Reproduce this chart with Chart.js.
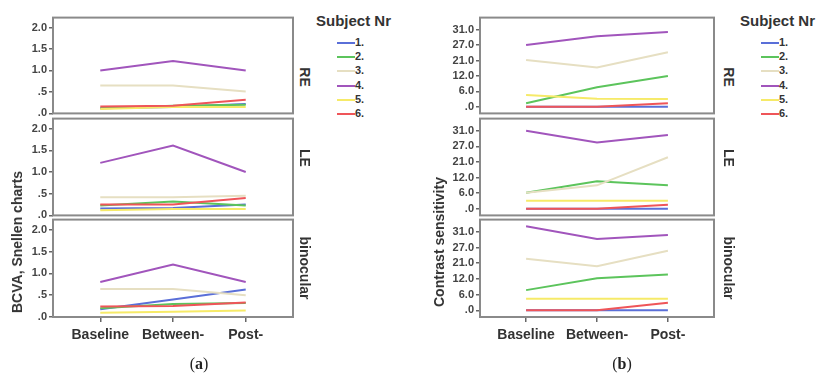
<!DOCTYPE html>
<html>
<head>
<meta charset="utf-8">
<script src="https://cdn.jsdelivr.net/npm/chart.js@4/dist/chart.umd.min.js"></script>
<style>
  body { margin: 0; background: #fff; }
  #stage { position: relative; width: 816px; height: 375px; overflow: hidden; font-family: "Liberation Sans", Arial, sans-serif; }
  canvas { position: absolute; }
  .txt { position: absolute; font-weight: bold; color: #333; white-space: nowrap; }
  .rot { transform: translate(-50%, -50%) rotate(90deg); }
  .rotL { transform: translate(-50%, -50%) rotate(-90deg); }
  .cap { position: absolute; font-family: "Liberation Serif", "DejaVu Serif", serif; font-size: 16px; color: #222; transform: translate(-50%, -50%); }
  .cap b { font-weight: bold; }
</style>
</head>
<body>
<div id="stage"></div>
<script>
// categories
const sessions = ['Baseline', 'Between-', 'Post-'];
const subjects = ['1.', '2.', '3.', '4.', '5.', '6.'];
const subjectColors = ['#5a6fd8', '#5cc45c', '#e6dfc2', '#a155bc', '#f6ea68', '#ef5559'];

// (a) BCVA, Snellen charts - one row per subject, values per session
const bcvaRE = [
    [0.12, 0.15, 0.22],
    [0.12, 0.18, 0.20],
    [0.65, 0.65, 0.51],
    [1.00, 1.22, 1.00],
    [0.10, 0.15, 0.15],
    [0.16, 0.18, 0.32]
];
const bcvaLE = [
    [0.16, 0.17, 0.25],
    [0.23, 0.32, 0.23],
    [0.42, 0.42, 0.45],
    [1.21, 1.61, 1.00],
    [0.12, 0.15, 0.15],
    [0.25, 0.25, 0.40]
];
const bcvaBino = [
    [0.18, 0.40, 0.63],
    [0.20, 0.30, 0.32],
    [0.64, 0.64, 0.50],
    [0.80, 1.20, 0.80],
    [0.10, 0.12, 0.15],
    [0.24, 0.25, 0.33]
];
const bcvaTicks = [0, 0.5, 1.0, 1.5, 2.0];
const bcvaTickLabels = ['.0', '.5', '1.0', '1.5', '2.0'];

// (b) Contrast sensitivity
const csRE = [
    [0, 0, 0],
    [1.4, 7.6, 12.0],
    [21.2, 16.9, 24.2],
    [27.0, 29.3, 30.4],
    [4.6, 3.1, 3.0],
    [0, 0, 1.4]
];
const csLE = [
    [0, 0, 0],
    [6.1, 10.6, 9.0],
    [6.1, 9.0, 22.8],
    [31.0, 28.0, 29.9],
    [3.1, 3.1, 3.1],
    [0, 0, 1.5]
];
const csBino = [
    [0, 0, 0],
    [7.7, 12.3, 14.5],
    [22.7, 19.2, 25.8],
    [32.4, 29.2, 30.2],
    [4.4, 4.4, 4.4],
    [0, 0, 2.9]
];
// contrast axis has evenly spaced but unevenly valued ticks
const csTicks = [0, 6, 12, 21, 27, 31];
const csTickLabels = ['.0', '6.0', '12.0', '21.0', '27.0', '31.0'];

// map a contrast value onto the tick index scale
function csPos(v) {
    for (let i = 0; i < csTicks.length - 1; i++) {
        if (v <= csTicks[i + 1]) return i + (v - csTicks[i]) / (csTicks[i + 1] - csTicks[i]);
    }
    const n = csTicks.length - 1;
    return n + (v - csTicks[n]) / (csTicks[n] - csTicks[n - 1]);
}

const stage = document.getElementById('stage');

// frame round the plot area
const framePlugin = {
    id: 'frame',
    afterDraw(chart) {
        const { ctx, chartArea: { left, right, top, bottom } } = chart;
        ctx.save();
        ctx.strokeStyle = '#8a8a8a';
        ctx.lineWidth = 2;
        ctx.strokeRect(left, top, right - left, bottom - top);
        ctx.restore();
    }
};

function makeChart(box, opt) {
    const yW = opt.yW;
    const padTop = 8, padBottom = opt.showX ? 0 : 8, xH = 35;
    const canvas = document.createElement('canvas');
    const w = yW + box.width + 3;
    const h = padTop + box.height + (opt.showX ? xH : padBottom);
    canvas.width = w;
    canvas.height = h;
    canvas.style.left = (box.left - yW) + 'px';
    canvas.style.top = (box.top - padTop) + 'px';
    stage.appendChild(canvas);

    const datasets = opt.series.map((vals, i) => ({
        label: subjects[i],
        data: vals.map((v, j) => ({ x: j, y: opt.map ? opt.map(v) : v })),
        borderColor: subjectColors[i],
        backgroundColor: subjectColors[i],
        borderWidth: 2,
        pointRadius: 0,
        tension: 0,
        order: 6 - i
    }));

    return new Chart(canvas, {
        type: 'line',
        data: { datasets: datasets },
        options: {
            responsive: false,
            animation: false,
            layout: { padding: { top: padTop, right: 3, bottom: padBottom, left: 0 } },
            plugins: { legend: { display: false }, tooltip: { enabled: false } },
            scales: {
                x: {
                    type: 'linear',
                    display: opt.showX,
                    min: -0.65,
                    max: 2.65,
                    afterBuildTicks: a => { a.ticks = sessions.map((s, i) => ({ value: i })); },
                    afterFit: a => { a.height = opt.showX ? xH : 0; },
                    ticks: {
                        callback: v => sessions[v],
                        font: { family: 'Liberation Sans', size: 14, weight: 'bold' },
                        color: '#333',
                        padding: 5,
                        maxRotation: 0,
                        autoSkip: false
                    },
                    grid: { drawOnChartArea: false, tickLength: 5, color: '#666', lineWidth: 1.5 },
                    border: { display: false }
                },
                y: {
                    type: 'linear',
                    min: opt.yMin,
                    max: opt.yMax,
                    afterBuildTicks: a => { a.ticks = opt.tickPos.map(v => ({ value: v })); },
                    afterFit: a => { a.width = yW; },
                    ticks: {
                        callback: (v, i) => opt.tickLabels[i],
                        font: { family: 'Liberation Sans', size: 11, weight: 'bold' },
                        color: '#444',
                        padding: 2,
                        autoSkip: false
                    },
                    grid: { drawOnChartArea: false, tickLength: 4, color: '#666', lineWidth: 1.5 },
                    border: { display: false }
                }
            }
        },
        plugins: [framePlugin]
    });
}

function addText(html, cls, x, y, size, extra) {
    const d = document.createElement('div');
    d.className = cls;
    d.innerHTML = html;
    d.style.left = x + 'px';
    d.style.top = y + 'px';
    if (size) d.style.fontSize = size + 'px';
    if (extra) Object.assign(d.style, extra);
    stage.appendChild(d);
    return d;
}

function addLegend(x, y) {
    addText('Subject Nr', 'txt', x, y, 15);
    subjects.forEach((s, i) => {
        const cy = y + 31 + i * 14.2;
        const ln = document.createElement('div');
        Object.assign(ln.style, {
            position: 'absolute', left: (x + 21) + 'px', top: (cy - 1) + 'px',
            width: '18px', height: '2px', background: subjectColors[i]
        });
        stage.appendChild(ln);
        addText(s, 'txt', x + 39, cy - 7, 11);
    });
}

const rows = [
    { top: 17, height: 97, label: 'RE', labelY: 77 },
    { top: 118, height: 98, label: 'LE', labelY: 158 },
    { top: 219, height: 98, label: 'binocular', labelY: 268 }
];

// panel (a)
const bcvaSets = [bcvaRE, bcvaLE, bcvaBino];
rows.forEach((r, k) => {
    makeChart({ left: 53, top: r.top, width: 240, height: r.height }, {
        yW: 35, yMin: 0, yMax: 2.23,
        tickPos: bcvaTicks, tickLabels: bcvaTickLabels,
        series: bcvaSets[k], showX: k === 2
    });
    addText(r.label, 'txt rot', 305, r.labelY, 14);
});
addText('BCVA, Snellen charts', 'txt rotL', 17, 242, 14);
addLegend(316, 12);
addText('(<b>a</b>)', 'cap', 199, 364);

// panel (b)
const csSets = [csRE, csLE, csBino];
rows.forEach((r, k) => {
    makeChart({ left: 480, top: r.top, width: 234, height: r.height }, {
        yW: 38, yMin: -0.43, yMax: 5.78,
        tickPos: csTicks.map((t, i) => i), tickLabels: csTickLabels,
        series: csSets[k], map: csPos, showX: k === 2
    });
    addText(r.label, 'txt rot', 729, r.labelY, 14);
});
addText('Contrast sensitivity', 'txt rotL', 439, 242, 14);
addLegend(740, 12);
addText('(<b>b</b>)', 'cap', 622, 364);
</script>
</body>
</html>
